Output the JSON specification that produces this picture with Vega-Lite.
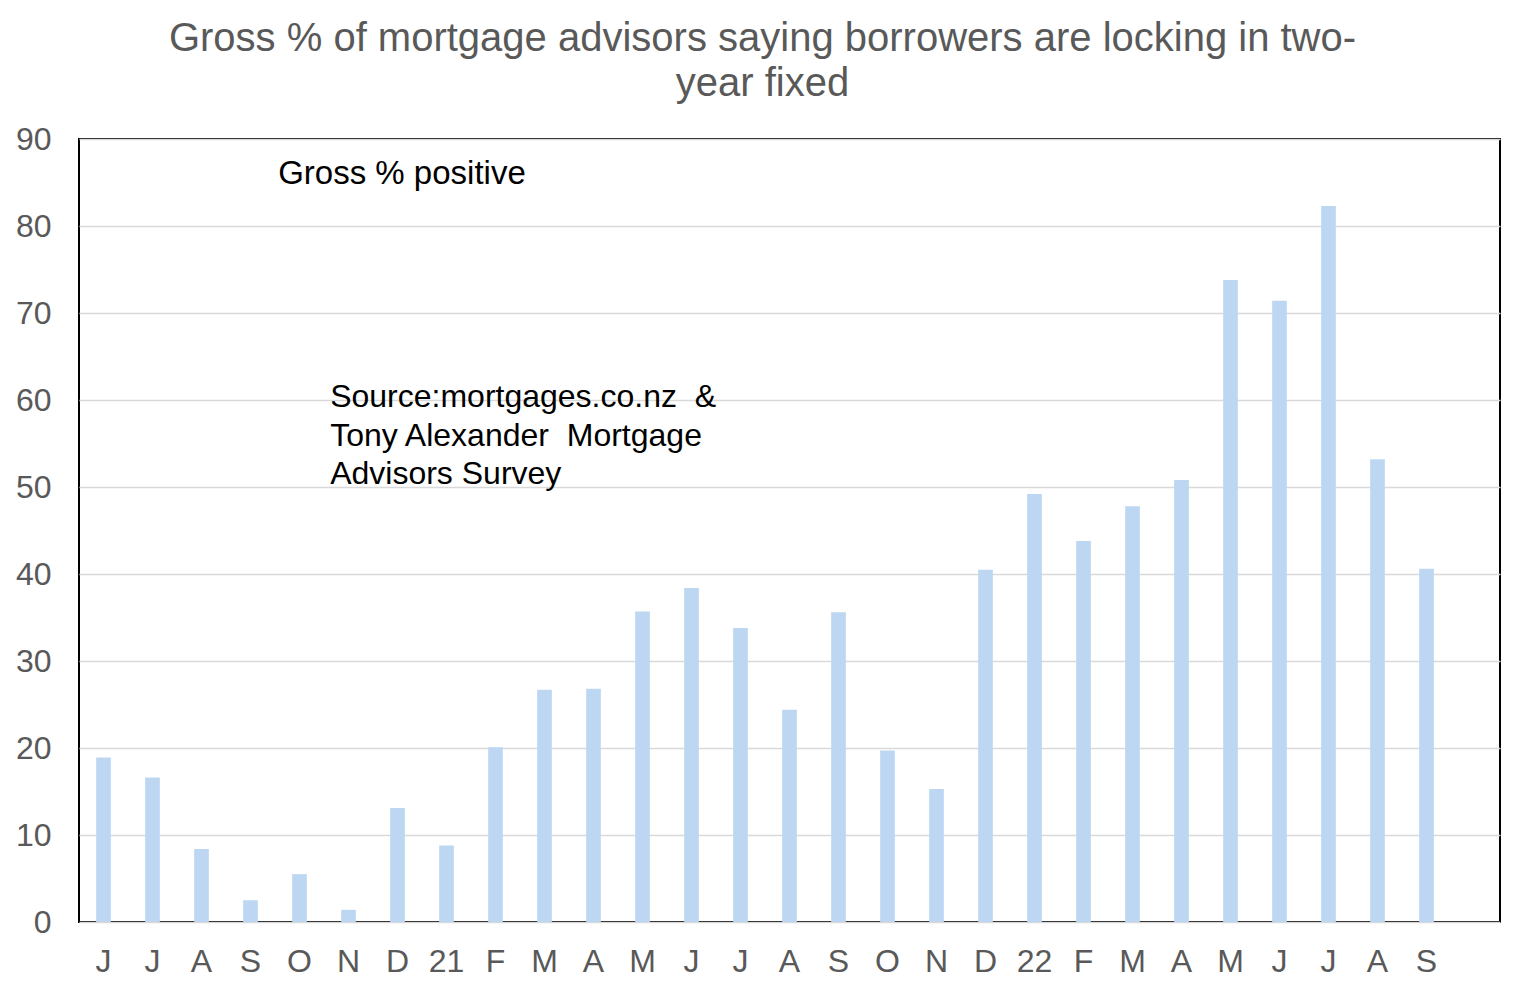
{
  "$schema": "https://vega.github.io/schema/vega-lite/v6.json",
  "width": 1421,
  "height": 783,
  "autosize": {"type": "none"},
  "padding": {"left": 79, "top": 139, "right": 25, "bottom": 73},
  "background": "white",
  "config": {
    "font": "Liberation Sans",
    "view": {"stroke": "#000000", "strokeWidth": 2}
  },
  "title": {
    "text": ["Gross % of mortgage advisors saying borrowers are locking in two-", "year fixed"],
    "fontSize": 40,
    "fontWeight": "normal",
    "color": "#595959",
    "lineHeight": 45,
    "anchor": "middle",
    "dx": -27,
    "offset": 19
  },
  "data": {
    "values": [
      {"month": "2020-06", "pct": 18.9},
      {"month": "2020-07", "pct": 16.6},
      {"month": "2020-08", "pct": 8.4},
      {"month": "2020-09", "pct": 2.5},
      {"month": "2020-10", "pct": 5.5},
      {"month": "2020-11", "pct": 1.4},
      {"month": "2020-12", "pct": 13.1},
      {"month": "2021-01", "pct": 8.8},
      {"month": "2021-02", "pct": 20.1},
      {"month": "2021-03", "pct": 26.7},
      {"month": "2021-04", "pct": 26.8},
      {"month": "2021-05", "pct": 35.7},
      {"month": "2021-06", "pct": 38.4},
      {"month": "2021-07", "pct": 33.8},
      {"month": "2021-08", "pct": 24.4},
      {"month": "2021-09", "pct": 35.6},
      {"month": "2021-10", "pct": 19.7},
      {"month": "2021-11", "pct": 15.3},
      {"month": "2021-12", "pct": 40.5},
      {"month": "2022-01", "pct": 49.2},
      {"month": "2022-02", "pct": 43.8},
      {"month": "2022-03", "pct": 47.8},
      {"month": "2022-04", "pct": 50.8},
      {"month": "2022-05", "pct": 73.8},
      {"month": "2022-06", "pct": 71.4},
      {"month": "2022-07", "pct": 82.3},
      {"month": "2022-08", "pct": 53.2},
      {"month": "2022-09", "pct": 40.6}
    ]
  },
  "encoding": {
    "x": {
      "field": "month",
      "type": "ordinal",
      "scale": {
        "domain": ["2020-06","2020-07","2020-08","2020-09","2020-10","2020-11","2020-12","2021-01","2021-02","2021-03","2021-04","2021-05","2021-06","2021-07","2021-08","2021-09","2021-10","2021-11","2021-12","2022-01","2022-02","2022-03","2022-04","2022-05","2022-06","2022-07","2022-08","2022-09","2022-10"],
        "paddingInner": 0.7,
        "paddingOuter": 0.35
      },
      "axis": {
        "title": null,
        "labelAngle": 0,
        "domain": false,
        "ticks": false,
        "labelFontSize": 32,
        "labelColor": "#595959",
        "labelPadding": 24,
        "labelExpr": "datum.value == '2022-10' ? '' : slice(datum.value, 5) == '01' ? slice(datum.value, 2, 4) : {'02':'F','03':'M','04':'A','05':'M','06':'J','07':'J','08':'A','09':'S','10':'O','11':'N','12':'D'}[slice(datum.value, 5)]"
      }
    }
  },
  "layer": [
    {
      "mark": {"type": "bar", "color": "#bdd7f2"},
      "encoding": {
        "y": {
          "field": "pct",
          "type": "quantitative",
          "scale": {"domain": [0, 90]},
          "axis": {
            "title": null,
            "values": [0, 10, 20, 30, 40, 50, 60, 70, 80, 90],
            "domain": false,
            "ticks": false,
            "gridColor": "#d9d9d9",
            "gridWidth": 1.5,
            "labelFontSize": 32,
            "labelColor": "#595959",
            "labelPadding": 28
          }
        }
      }
    },
    {
      "data": {"values": [{}]},
      "mark": {"type": "text", "text": "Gross % positive", "fontSize": 33, "color": "#000000", "align": "left", "baseline": "middle", "dx": -14},
      "encoding": {
        "x": {"datum": "2020-10", "bandPosition": 0},
        "y": {"datum": 86}
      }
    },
    {
      "data": {"values": [{}]},
      "mark": {"type": "text", "text": ["Source:mortgages.co.nz\u00a0 &", "Tony Alexander\u00a0 Mortgage", "Advisors Survey"], "fontSize": 32, "color": "#000000", "align": "left", "baseline": "middle", "lineHeight": 38.5, "dx": -11},
      "encoding": {
        "x": {"datum": "2020-11", "bandPosition": 0},
        "y": {"datum": 60.3}
      }
    }
  ]
}
